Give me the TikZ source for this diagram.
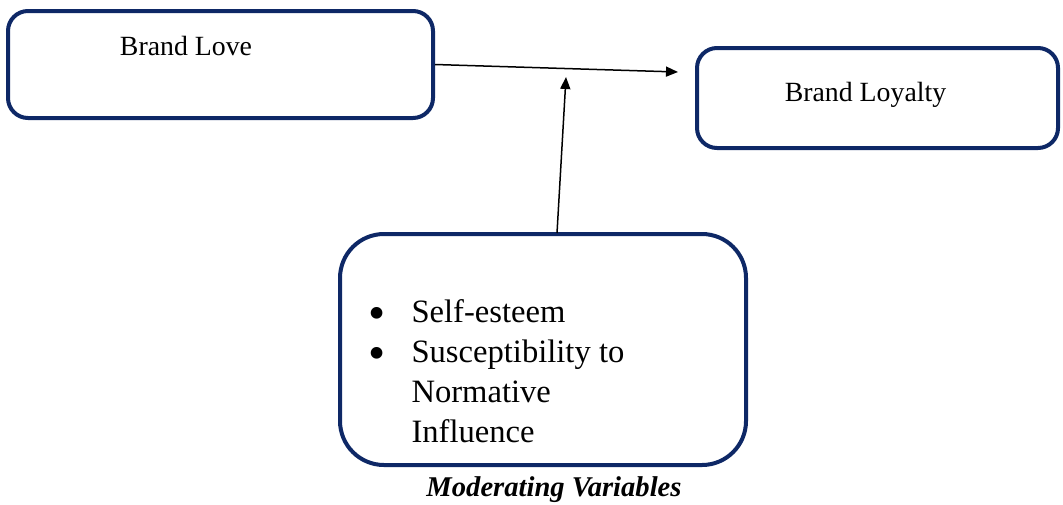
\documentclass[tikz,border=0pt]{standalone}
\usepackage{fontspec}
\usepackage{graphicx}
\setmainfont{Liberation Serif}
\usetikzlibrary{arrows.meta}
\definecolor{boxnavy}{RGB}{14,40,102}
\newcommand\itembullet{\raisebox{-0.5ex}{\scalebox{1.5}{\textbullet}}}

\begin{document}
\begin{tikzpicture}[x=0.5pt,y=-0.5pt,
  varbox/.style n args={3}{draw=boxnavy,line width=2pt,rounded corners=#3,minimum width=#1*0.5pt,minimum height=#2*0.5pt,inner sep=0pt},
  link/.style={-{Triangle[length=6pt,width=5pt]},line width=0.75pt},
  boxtext/.style={anchor=base,inner sep=0pt,font=\fontsize{13.9}{16}\selectfont}]
\useasboundingbox (0,0) rectangle (1063,504);
% the three boxes
\node[varbox={425}{107}{10pt}] (love) at (220.5,64.5) {};
\node[varbox={361}{100}{10pt}] (loyalty) at (877.5,98) {};
\node[varbox={406}{231}{22pt}] (mod) at (543,349.5) {};
% texts
\node[boxtext] (lovetxt) at (186,55) {Brand Love};
\node[boxtext] (loyaltytxt) at (865.5,101) {Brand Loyalty};
\node[anchor=base west,inner sep=0pt,font=\fontsize{16.3}{20}\selectfont] (items) at (368,322)
   {\begin{tabular}[t]{@{}l@{\hspace{13pt}}l@{}}
    \itembullet & Self-esteem\\
    \itembullet & Susceptibility to\\
     & Normative\\
     & Influence
   \end{tabular}};
\node[anchor=base,inner sep=0pt,font=\bfseries\itshape\fontsize{14.3}{17}\selectfont] (modtxt) at (554,496) {Moderating Variables};
% arrows
\coordinate (lovetip) at (678,72);
\coordinate (modtip) at (566,77);
\coordinate (modfoot) at (557,233);
\draw[link] (love.east) -- (lovetip);
\draw[link] (modfoot) -- (modtip);
\end{tikzpicture}
\end{document}
